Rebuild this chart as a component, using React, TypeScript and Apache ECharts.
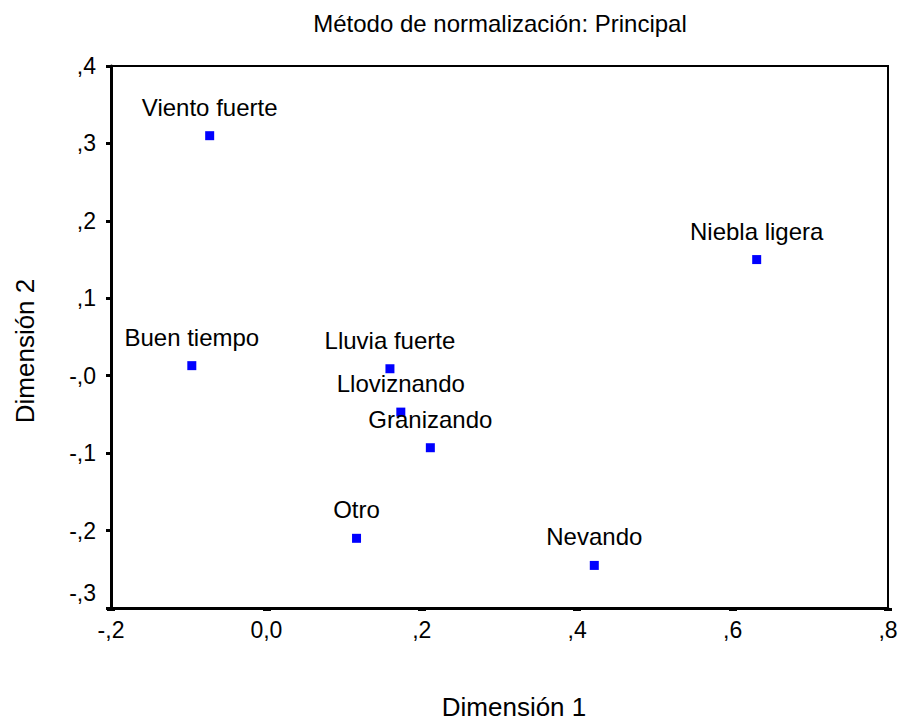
import React, { useEffect, useRef } from "react";
import * as echarts from "echarts";

const categories = [
  "Viento fuerte",
  "Buen tiempo",
  "Lluvia fuerte",
  "Lloviznando",
  "Granizando",
  "Niebla ligera",
  "Otro",
  "Nevando",
];
const dim1 = [-0.073, -0.096, 0.159, 0.173, 0.211, 0.631, 0.116, 0.422];
const dim2 = [0.31, 0.013, 0.009, -0.047, -0.093, 0.15, -0.21, -0.245];

const xTickValues = [-0.2, 0.0, 0.2, 0.4, 0.6, 0.8];
const xTickLabels = ["-,2", "0,0", ",2", ",4", ",6", ",8"];
const yTickValues = [-0.3, -0.2, -0.1, 0.0, 0.1, 0.2, 0.3, 0.4];
const yTickLabels = ["-,3", "-,2", "-,1", "-,0", ",1", ",2", ",3", ",4"];

const titleText = "Método de normalización: Principal";
const xName = "Dimensión 1";
const yName = "Dimensión 2";

const FONT = "'Liberation Sans', Arial, sans-serif";

function labelFor(values: number[], labels: string[], v: number): string {
  let best = 0;
  for (let i = 0; i < values.length; i++) {
    if (Math.abs(values[i] - v) < Math.abs(values[best] - v)) best = i;
  }
  return labels[best];
}

export default function App() {
  const ref = useRef<HTMLDivElement>(null);
  useEffect(() => {
    if (!ref.current) return;
    const chart = echarts.init(ref.current, undefined, { renderer: "svg" });
    const data = categories.map((c, i) => ({ name: c, value: [dim1[i], dim2[i]] }));
    chart.setOption({
      animation: false,
      backgroundColor: "#ffffff",
      grid: {
        left: 111,
        right: 13,
        top: 66,
        bottom: 115,
        show: true,
        borderColor: "#000",
        borderWidth: 2,
        outerBoundsMode: "none",
      },
      xAxis: {
        type: "value",
        min: -0.2,
        max: 0.8,
        interval: 0.2,
        axisLine: { show: true, onZero: false, lineStyle: { color: "#000", width: 3 } },
        axisTick: { show: true, length: 3, lineStyle: { color: "#000", width: 8 } },
        splitLine: { show: false },
        axisLabel: {
          color: "#000",
          fontFamily: FONT,
          fontSize: 23,
          margin: 10,
          formatter: (v: number) => labelFor(xTickValues, xTickLabels, v),
        },
      },
      yAxis: {
        type: "value",
        min: -0.3,
        max: 0.4,
        interval: 0.1,
        axisLine: { show: true, onZero: false, lineStyle: { color: "#000", width: 3 } },
        axisTick: { show: true, length: 5, lineStyle: { color: "#000", width: 3 } },
        splitLine: { show: false },
        axisLabel: {
          color: "#000",
          fontFamily: FONT,
          fontSize: 23,
          margin: 15,
          formatter: (v: number) => {
            const s = labelFor(yTickValues, yTickLabels, v);
            return s === "-,3" ? "{low|" + s + "}" : s;
          },
          rich: {
            low: {
              color: "#000",
              fontFamily: FONT,
              fontSize: 23,
              padding: [0, 0, 30, 0],
            },
          },
        },
      },
      series: [
        {
          type: "scatter",
          data,
          symbol: "rect",
          symbolSize: 9,
          itemStyle: { color: "#0000ff", opacity: 1 },
          label: {
            show: true,
            position: "top",
            distance: 12,
            formatter: (p: any) => p.name,
            color: "#000",
            opacity: 1,
            fontFamily: FONT,
            fontSize: 24,
          },
        },
      ],
      graphic: [
        {
          type: "text",
          x: 500,
          y: 23,
          style: {
            text: titleText,
            fill: "#000",
            font: `24px ${FONT}`,
            align: "center",
            verticalAlign: "middle",
          },
        },
        {
          type: "text",
          x: 514,
          y: 707,
          style: {
            text: xName,
            fill: "#000",
            font: `26px ${FONT}`,
            align: "center",
            verticalAlign: "middle",
          },
        },
        {
          type: "text",
          x: 25,
          y: 351,
          rotation: Math.PI / 2,
          style: {
            text: yName,
            fill: "#000",
            font: `26px ${FONT}`,
            align: "center",
            verticalAlign: "middle",
          },
        },
      ],
    });
    return () => chart.dispose();
  }, []);
  return (
    <div
      ref={ref}
      style={{ position: "fixed", left: 0, top: 0, width: 901, height: 723 }}
    />
  );
}
